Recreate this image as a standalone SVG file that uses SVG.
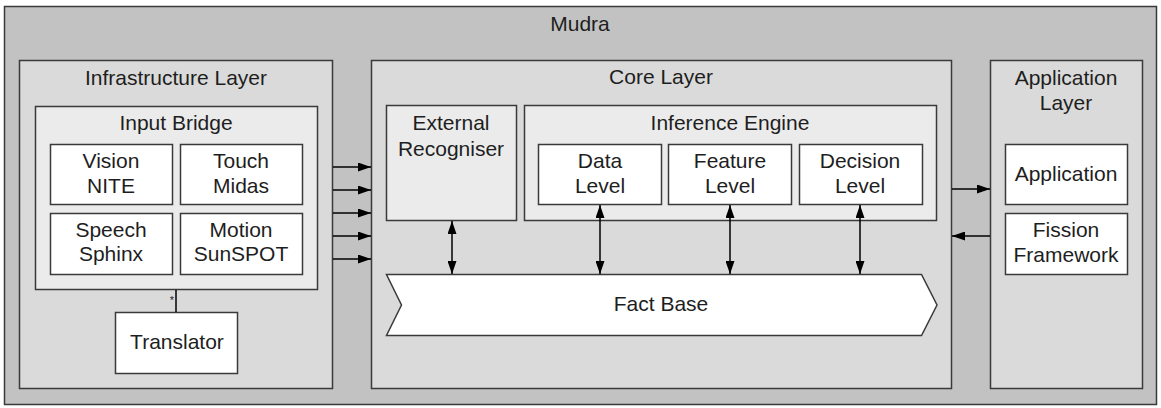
<svg xmlns="http://www.w3.org/2000/svg" width="1161" height="408" viewBox="0 0 1161 408">
  <defs>
    <marker id="arrowEnd" viewBox="0 0 13 9" refX="13" refY="4.5" markerWidth="13" markerHeight="9" markerUnits="userSpaceOnUse" orient="auto">
      <path d="M0,0 L13,4.5 L0,9 Z" fill="#000"/>
    </marker>
    <marker id="arrowStart" viewBox="0 0 13 9" refX="0" refY="4.5" markerWidth="13" markerHeight="9" markerUnits="userSpaceOnUse" orient="auto">
      <path d="M13,0 L0,4.5 L13,9 Z" fill="#000"/>
    </marker>
  </defs>
  <style>
    .outer { fill: #c2c2c2; stroke: #3a3a3a; stroke-width: 1.5; }
    .layer { fill: #dadada; stroke: #3a3a3a; stroke-width: 1.5; }
    .group { fill: #ebebeb; stroke: #3a3a3a; stroke-width: 1.5; }
    .box { fill: #ffffff; stroke: #3a3a3a; stroke-width: 1.5; }
    text { font-family: "Liberation Sans", Arial, sans-serif; font-size: 21px; fill: #1e1e1e; text-anchor: middle; }
    .conn { stroke: #000; stroke-width: 1.5; fill: none; }
  </style>

  <!-- Mudra framework -->
  <g id="mudra">
    <rect class="outer" x="4.5" y="6.5" width="1152" height="398"/>
    <text x="580" y="31">Mudra</text>
  </g>

  <!-- Infrastructure layer -->
  <g id="infrastructure-layer">
    <rect class="layer" x="19.5" y="60.5" width="313" height="328"/>
    <text x="176" y="85">Infrastructure Layer</text>
  </g>
  <g id="input-bridge">
    <rect class="group" x="35.5" y="106.5" width="282" height="183"/>
    <text x="176" y="130">Input Bridge</text>
  </g>
  <g id="vision-nite">
    <rect class="box" x="50.5" y="144.5" width="122" height="60"/>
    <text x="111" y="168">Vision</text>
    <text x="111" y="193">NITE</text>
  </g>
  <g id="touch-midas">
    <rect class="box" x="180.5" y="144.5" width="122" height="60"/>
    <text x="241" y="168">Touch</text>
    <text x="241" y="193">Midas</text>
  </g>
  <g id="speech-sphinx">
    <rect class="box" x="50.5" y="213.5" width="122" height="61"/>
    <text x="111" y="237">Speech</text>
    <text x="111" y="261">Sphinx</text>
  </g>
  <g id="motion-sunspot">
    <rect class="box" x="180.5" y="213.5" width="122" height="61"/>
    <text x="241" y="237">Motion</text>
    <text x="241" y="261">SunSPOT</text>
  </g>
  <g id="translator">
    <rect class="box" x="115.5" y="312.5" width="122" height="61"/>
    <text x="177" y="349">Translator</text>
  </g>

  <!-- Core layer -->
  <g id="core-layer">
    <rect class="layer" x="371.5" y="60.5" width="580" height="328"/>
    <text x="661" y="84">Core Layer</text>
  </g>
  <g id="external-recogniser">
    <rect class="group" x="386.5" y="105.5" width="130" height="115"/>
    <text x="451" y="130">External</text>
    <text x="451" y="156">Recogniser</text>
  </g>
  <g id="inference-engine">
    <rect class="group" x="524.5" y="105.5" width="412" height="115"/>
    <text x="730" y="130">Inference Engine</text>
  </g>
  <g id="data-level">
    <rect class="box" x="538.5" y="144.5" width="123" height="60"/>
    <text x="600" y="168">Data</text>
    <text x="600" y="193">Level</text>
  </g>
  <g id="feature-level">
    <rect class="box" x="668.5" y="144.5" width="123" height="60"/>
    <text x="730" y="168">Feature</text>
    <text x="730" y="193">Level</text>
  </g>
  <g id="decision-level">
    <rect class="box" x="799.5" y="144.5" width="123" height="60"/>
    <text x="860" y="168">Decision</text>
    <text x="860" y="193">Level</text>
  </g>
  <g id="fact-base">
    <polygon class="box" points="386.5,274.5 921.5,274.5 937,305 921.5,335.5 386.5,335.5 401.5,305"/>
    <text x="661" y="311">Fact Base</text>
  </g>

  <!-- Application layer -->
  <g id="application-layer">
    <rect class="layer" x="990.5" y="60.5" width="152" height="328"/>
    <text x="1066" y="85">Application</text>
    <text x="1066" y="110">Layer</text>
  </g>
  <g id="application">
    <rect class="box" x="1005.5" y="144.5" width="122" height="60"/>
    <text x="1066" y="181">Application</text>
  </g>
  <g id="fission-framework">
    <rect class="box" x="1005.5" y="213.5" width="122" height="61"/>
    <text x="1066" y="237">Fission</text>
    <text x="1066" y="262">Framework</text>
  </g>

  <!-- Connectors -->
  <g id="connectors">
    <!-- input bridge to translator -->
    <line class="conn" x1="176" y1="290" x2="176" y2="312"/>
    <text x="172" y="304" style="font-size:11px">*</text>
    <!-- infrastructure to core -->
    <line class="conn" x1="333" y1="167" x2="371" y2="167" marker-end="url(#arrowEnd)"/>
    <line class="conn" x1="333" y1="190" x2="371" y2="190" marker-end="url(#arrowEnd)"/>
    <line class="conn" x1="333" y1="213" x2="371" y2="213" marker-end="url(#arrowEnd)"/>
    <line class="conn" x1="333" y1="236" x2="371" y2="236" marker-end="url(#arrowEnd)"/>
    <line class="conn" x1="333" y1="259" x2="371" y2="259" marker-end="url(#arrowEnd)"/>
    <!-- fact base exchanges -->
    <line class="conn" x1="452" y1="221" x2="452" y2="274" marker-start="url(#arrowStart)" marker-end="url(#arrowEnd)"/>
    <line class="conn" x1="600" y1="205" x2="600" y2="274" marker-start="url(#arrowStart)" marker-end="url(#arrowEnd)"/>
    <line class="conn" x1="730" y1="205" x2="730" y2="274" marker-start="url(#arrowStart)" marker-end="url(#arrowEnd)"/>
    <line class="conn" x1="860" y1="205" x2="860" y2="274" marker-start="url(#arrowStart)" marker-end="url(#arrowEnd)"/>
    <!-- core to application and back -->
    <line class="conn" x1="952" y1="189" x2="990" y2="189" marker-end="url(#arrowEnd)"/>
    <line class="conn" x1="990" y1="236" x2="952" y2="236" marker-end="url(#arrowEnd)"/>
  </g>
</svg>
